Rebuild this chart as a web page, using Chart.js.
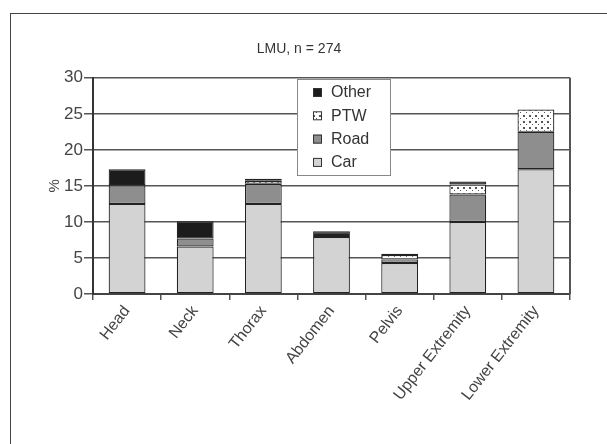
<!DOCTYPE html>
<html>
<head>
<meta charset="utf-8">
<script src="https://cdn.jsdelivr.net/npm/chart.js@4.4.1/dist/chart.umd.min.js"></script>
<style>
  html, body { margin: 0; padding: 0; background: #fff; }
  #wrap { position: relative; width: 607px; height: 444px; }
  #frame { position: absolute; left: 10px; top: 13px; right: 0; bottom: 0;
           border-top: 1.5px solid #444; border-left: 1.5px solid #444; }
  canvas { position: absolute; left: 0; top: 0; }
</style>
</head>
<body>
<div id="wrap">
  <div id="frame"></div>
  <canvas id="chart" width="607" height="444"></canvas>
</div>
<script>
// injury regions and share of cases (%) per accident type
const categories = ['Head', 'Neck', 'Thorax', 'Abdomen', 'Pelvis', 'Upper Extremity', 'Lower Extremity'];
const car   = [12.5, 6.6, 12.5, 7.9, 4.3, 10.0, 17.3];
const road  = [2.6, 1.1, 2.8, 0.3, 0.5, 3.8, 5.2];
const ptw   = [0, 0, 0.4, 0, 0.6, 1.4, 3.1];
const other = [2.2, 2.4, 0.3, 0.5, 0.2, 0.4, 0];
const yTicks = [0, 5, 10, 15, 20, 25, 30];

const FONT = '"Liberation Sans", Arial, sans-serif';

// dotted fill for PTW
function dotPattern() {
  const c = document.createElement('canvas');
  c.width = 6; c.height = 6;
  const g = c.getContext('2d');
  g.fillStyle = '#fff';
  g.fillRect(0, 0, 6, 6);
  g.fillStyle = '#555';
  g.fillRect(1, 1, 2, 2);
  g.fillRect(4, 4, 1, 1);
  return g.createPattern(c, 'repeat');
}

const ptwFill = dotPattern();

// legend box drawn inside the plot, Other on top
const boxLegend = {
  id: 'boxLegend',
  afterDraw(chart) {
    const ctx = chart.ctx;
    const x = 297, y = 79, w = 93, h = 96;
    ctx.save();
    ctx.fillStyle = '#fff';
    ctx.fillRect(x, y, w, h);
    ctx.strokeStyle = '#888';
    ctx.lineWidth = 1;
    ctx.strokeRect(x + 0.5, y + 0.5, w, h);
    ctx.font = '16px ' + FONT;
    ctx.textBaseline = 'middle';
    const items = chart.data.datasets.slice().reverse();
    items.forEach((ds, i) => {
      const cy = y + 14 + i * 23.3;
      ctx.fillStyle = ds.backgroundColor;
      ctx.fillRect(x + 16, cy - 5, 9, 9);
      ctx.strokeStyle = '#333';
      ctx.strokeRect(x + 16.5, cy - 4.5, 8, 8);
      ctx.fillStyle = '#333';
      ctx.fillText(ds.label, x + 34, cy);
    });
    ctx.restore();
  }
};

// right edge of the plot box
const plotBorder = {
  id: 'plotBorder',
  beforeDatasetsDraw(chart) {
    const a = chart.chartArea;
    const ctx = chart.ctx;
    ctx.save();
    ctx.strokeStyle = '#555';
    ctx.lineWidth = 2;
    ctx.beginPath();
    ctx.moveTo(a.right, a.top);
    ctx.lineTo(a.right, a.bottom);
    ctx.stroke();
    ctx.restore();
  }
};

const seg = { borderColor: '#222', borderWidth: 1.2, borderSkipped: false,
              barPercentage: 0.54, categoryPercentage: 1 };

new Chart(document.getElementById('chart'), {
  type: 'bar',
  data: {
    labels: categories,
    datasets: [
      { label: 'Car', data: car, backgroundColor: '#d3d3d3', ...seg },
      { label: 'Road', data: road, backgroundColor: '#8e8e8e', ...seg },
      { label: 'PTW', data: ptw, backgroundColor: ptwFill, ...seg },
      { label: 'Other', data: other, backgroundColor: '#1c1c1c', ...seg }
    ]
  },
  options: {
    responsive: false,
    animation: false,
    layout: { padding: { left: 28, right: 37, top: 0, bottom: 0 } },
    plugins: {
      legend: { display: false },
      tooltip: { enabled: false },
      title: {
        display: true,
        text: 'LMU, n = 274',
        color: '#333',
        font: { family: FONT, size: 14, weight: 'normal' },
        padding: { top: 41, bottom: 20 }
      }
    },
    scales: {
      x: {
        stacked: true,
        offset: true,
        grid: { offset: true, drawOnChartArea: false, drawTicks: true, tickLength: 6, color: '#555', lineWidth: 1.5 },
        border: { color: '#444', width: 2 },
        ticks: {
          color: '#444',
          font: { family: FONT, size: 16 },
          minRotation: 52, maxRotation: 52, padding: 2
        },
        afterFit(scale) { scale.height = 150; }
      },
      y: {
        stacked: true,
        min: 0, max: 30,
        afterBuildTicks(scale) { scale.ticks = yTicks.map(v => ({ value: v })); },
        grid: { color: '#555', lineWidth: 1.5, tickLength: 9 },
        border: { color: '#333', width: 2 },
        ticks: {
          color: '#444',
          font: { family: FONT, size: 17 },
          padding: 1
        },
        title: {
          display: true, text: '%', color: '#444',
          font: { family: FONT, size: 15 },
          padding: { top: 18, bottom: 0 }
        },
        afterFit(scale) { scale.width = 65; }
      }
    }
  },
  plugins: [plotBorder, boxLegend]
});
</script>
</body>
</html>
